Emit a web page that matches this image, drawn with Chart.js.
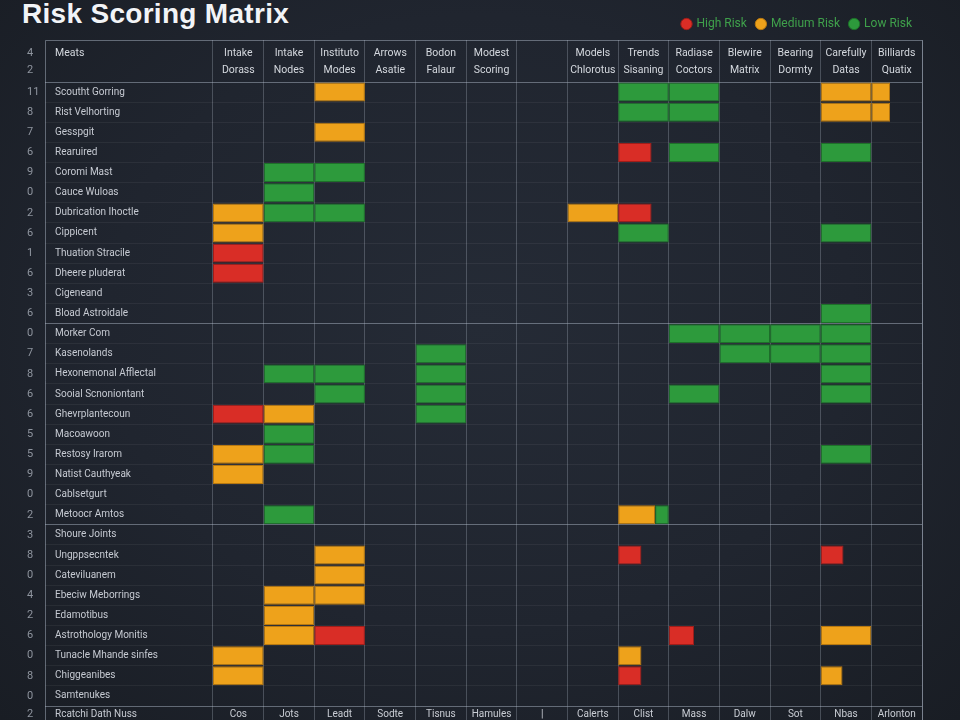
<!DOCTYPE html>
<html>
<head>
<meta charset="utf-8">
<script src="https://cdn.jsdelivr.net/npm/chart.js@4.4.1/dist/chart.umd.min.js"></script>
<style>
  html, body { margin: 0; padding: 0; width: 960px; height: 720px; overflow: hidden;
    background: radial-gradient(ellipse at 50% 45%, #252b36 0%, #20252f 55%, #191d24 100%); }
  #wrap { position: relative; width: 960px; height: 720px; }
  h1 { position: absolute; left: 22px; top: -2px; margin: 0; font: 700 28px 'Liberation Sans', Arial, sans-serif;
       color: #f2f4f7; letter-spacing: 0.3px; }
  canvas { position: absolute; left: 0; top: 0; }
</style>
</head>
<body>
<div id="wrap">
  <h1>Risk Scoring Matrix</h1>
  <canvas id="c" width="960" height="720"></canvas>
</div>
<script>
// ---- data ----
const rowLabels = [
  'Scoutht Gorring', 'Rist Velhorting', 'Gesspgit', 'Rearuired', 'Coromi Mast', 'Cauce Wuloas',
  'Dubrication Ihoctle', 'Cippicent', 'Thuation Stracile', 'Dheere pluderat', 'Cigeneand', 'Bload Astroidale',
  'Morker Com', 'Kasenolands', 'Hexonemonal Afflectal', 'Sooial Scnoniontant', 'Ghevrplantecoun',
  'Macoawoon', 'Restosy Irarom', 'Natist Cauthyeak', 'Cablsetgurt', 'Metoocr Amtos',
  'Shoure Joints', 'Ungppsecntek', 'Cateviluanem', 'Ebeciw Meborrings', 'Edamotibus',
  'Astrothology Monitis', 'Tunacle Mhande sinfes', 'Chiggeanibes', 'Samtenukes'
];
const rowNumbers = ['11','8','7','6','9','0','2','6','1','6','3','6',
                    '0','7','8','6','6','5','5','9','0','2',
                    '3','8','0','4','2','6','0','8','0'];
const groupBreaks = [12, 22];   // first row of each new block

const columnHeaders = [
  ['Intake', 'Dorass'], ['Intake', 'Nodes'], ['Instituto', 'Modes'], ['Arrows', 'Asatie'],
  ['Bodon', 'Falaur'], ['Modest', 'Scoring'], '', ['Models', 'Chlorotus'], ['Trends', 'Sisaning'],
  ['Radiase', 'Coctors'], ['Blewire', 'Matrix'], ['Bearing', 'Dormty'], ['Carefully', 'Datas'],
  ['Billiards', 'Quatix']
];
const columnFooters = ['Cos', 'Jots', 'Leadt', 'Sodte', 'Tisnus', 'Hamules', '|', 'Calerts',
                       'Clist', 'Mass', 'Dalw', 'Sot', 'Nbas', 'Arlonton'];
const cornerHeader = 'Meats';
const cornerNumbers = ['4', '2'];
const footerRowLabel = 'Rcatchi Dath Nuss';
const footerRowNumber = '2';

// cells: [row index, from column, to column]  (column units, partial fills)
const highRisk = [
  [3, 8, 8.66], [6, 8, 8.66], [8, 0, 1], [9, 0, 1], [16, 0, 1],
  [23, 8, 8.46], [23, 12, 12.45], [27, 2, 3], [27, 9, 9.5], [29, 8, 8.46]
];
const mediumRisk = [
  [0, 2, 3], [0, 12, 13], [0, 13, 13.37], [1, 12, 13], [1, 13, 13.37], [2, 2, 3],
  [6, 0, 1], [6, 7, 8], [7, 0, 1], [16, 1, 2], [18, 0, 1], [19, 0, 1], [21, 8, 8.73],
  [23, 2, 3], [24, 2, 3], [25, 1, 2], [25, 2, 3], [26, 1, 2], [27, 1, 2], [27, 12, 13],
  [28, 0, 1], [28, 8, 8.46], [29, 0, 1], [29, 12, 12.43]
];
const lowRisk = [
  [0, 8, 9], [0, 9, 10], [1, 8, 9], [1, 9, 10], [3, 9, 10], [3, 12, 13],
  [4, 1, 2], [4, 2, 3], [5, 1, 2], [6, 1, 2], [6, 2, 3], [7, 8, 9], [7, 12, 13], [11, 12, 13],
  [12, 9, 10], [12, 10, 11], [12, 11, 12], [12, 12, 13],
  [13, 4, 5], [13, 10, 11], [13, 11, 12], [13, 12, 13],
  [14, 1, 2], [14, 2, 3], [14, 4, 5], [14, 12, 13],
  [15, 2, 3], [15, 4, 5], [15, 9, 10], [15, 12, 13],
  [16, 4, 5], [17, 1, 2], [18, 1, 2], [18, 12, 13], [21, 1, 2], [21, 8.73, 9]
];
const seriesNames = ['High Risk', 'Medium Risk', 'Low Risk'];

// ---- chart ----
const FONT = "Roboto, 'Liberation Sans', Arial, sans-serif";
const toPoints = cells => cells.map(([r, s, e]) => ({ y: rowLabels[r], x: [s, e] }));
const lineColor = 'rgba(175,185,200,0.30)';
const strongLine = 'rgba(185,195,210,0.45)';
const faintLine = 'rgba(255,255,255,0.055)';

function cellDataset(label, cells, fill, edge) {
  return {
    label, data: toPoints(cells), xAxisID: 'x', yAxisID: 'y',
    backgroundColor: fill, borderColor: edge, borderWidth: 1, borderSkipped: false,
    grouped: false, categoryPercentage: 1, barPercentage: 0.94
  };
}

const framePlugin = {
  id: 'frame',
  afterDraw(chart) {
    const { ctx, chartArea, scales } = chart;
    const left = Math.round(scales.y.left - 10) + 0.5;
    const top = Math.round(scales.xTop.top) + 0.5;
    const right = Math.round(chartArea.right) + 0.5;
    ctx.save();
    ctx.strokeStyle = strongLine;
    ctx.lineWidth = 1;
    ctx.beginPath();
    ctx.moveTo(left, chart.height);
    ctx.lineTo(left, top);
    ctx.lineTo(right, top);
    ctx.lineTo(right, chart.height);
    ctx.stroke();
    // horizontal line closing the footer band
    ctx.strokeStyle = faintLine;
    ctx.textBaseline = 'middle';
    ctx.textAlign = 'left';
    const h1 = scales.xTop.top + 13, h2 = scales.xTop.top + 30;
    ctx.font = '10.5px ' + FONT;
    ctx.fillStyle = '#d4d8de';
    ctx.fillText(cornerHeader, scales.y.left, h1);
    ctx.font = '11px ' + FONT;
    ctx.fillStyle = '#8f959f';
    ctx.fillText(cornerNumbers[0], scales.y2.left, h1);
    ctx.fillText(cornerNumbers[1], scales.y2.left, h2);
    const fy = scales.xBottom.top + 8;
    ctx.fillText(footerRowNumber, scales.y2.left, fy);
    ctx.font = '10px ' + FONT;
    ctx.fillStyle = '#c6cad2';
    ctx.fillText(footerRowLabel, scales.y.left, fy);
    ctx.restore();
  }
};

new Chart(document.getElementById('c'), {
  type: 'bar',
  data: {
    labels: rowLabels,
    datasets: [
      cellDataset(seriesNames[0], highRisk, '#d92d26', '#a01d19'),
      cellDataset(seriesNames[1], mediumRisk, '#eea21b', '#b77810'),
      cellDataset(seriesNames[2], lowRisk, '#2d9a3c', '#1d7029')
    ]
  },
  options: {
    indexAxis: 'y',
    responsive: false,
    animation: false,
    devicePixelRatio: 1,
    layout: { padding: { top: 8, left: 27, right: 38, bottom: 0 } },
    plugins: {
      legend: {
        position: 'top', align: 'end',
        labels: { color: '#3fa04b', usePointStyle: true, pointStyle: 'circle', boxWidth: 8, boxHeight: 8,
                  padding: 10, font: { family: FONT, size: 12 } }
      },
      title: { display: false },
      tooltip: { enabled: true }
    },
    scales: {
      x: { type: 'linear', min: 0, max: 14, display: false },
      xTop: {
        type: 'category', position: 'top', labels: columnHeaders, offset: true,
        grid: { offset: true, color: lineColor, tickLength: 42, drawTicks: true },
        border: { display: false },
        ticks: { color: '#d4d8de', font: { family: FONT, size: 10.5, lineHeight: 1.6 }, padding: -38.5,
                 maxRotation: 0, autoSkip: false },
        afterFit(s) { s.height = 42; }
      },
      xBottom: {
        type: 'category', position: 'bottom', labels: columnFooters, offset: true,
        grid: { offset: true, drawOnChartArea: false, color: lineColor, tickLength: 14 },
        border: { display: false },
        ticks: { color: '#c9cdd4', font: { family: FONT, size: 10, lineHeight: 1.2 }, padding: -12,
                 maxRotation: 0, autoSkip: false },
        afterFit(s) { s.height = 14; }
      },
      y: {
        type: 'category', position: 'left', offset: true,
        grid: {
          offset: true, tickLength: 168,
          color: ctx => (ctx.index === undefined || ctx.index === 0 || groupBreaks.includes(ctx.index)) ? strongLine : faintLine
        },
        border: { display: false },
        ticks: { crossAlign: 'far', color: '#c6cad2', font: { family: FONT, size: 10 }, autoSkip: false, padding: 0 },
        afterFit(s) { s.width = 158; }
      },
      y2: {
        type: 'category', position: 'left', labels: rowNumbers, offset: true, weight: 1,
        grid: { display: false }, border: { display: false },
        ticks: { crossAlign: 'far', color: '#8f959f', font: { family: FONT, size: 11 }, autoSkip: false },
        afterFit(s) { s.width = 28; }
      }
    }
  },
  plugins: [framePlugin]
});
</script>
</body>
</html>
